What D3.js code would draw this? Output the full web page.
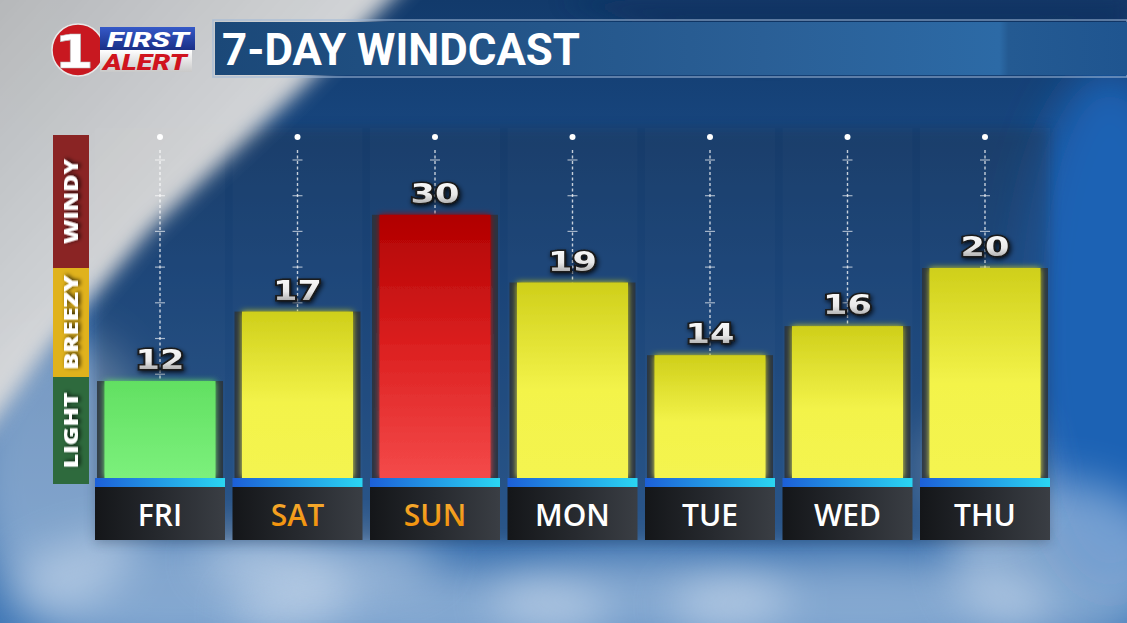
<!DOCTYPE html>
<html>
<head>
<meta charset="utf-8">
<script src="https://cdn.jsdelivr.net/npm/d3@7"></script>
<style>
  html, body { margin: 0; padding: 0; background: #1f5798; overflow: hidden; }
  svg { display: block; }
</style>
</head>
<body>
<svg id="chart"></svg>
<script>
// data
const days = ["FRI", "SAT", "SUN", "MON", "TUE", "WED", "THU"];
const speeds = [12, 17, 30, 19, 14, 16, 20];
const weekend = ["SAT", "SUN"];
const levelNames = ["LIGHT", "BREEZY", "WINDY"];
const levelBreaks = [0, 12.5, 20, 45];
const title = "7-DAY WINDCAST";

const width = 1127, height = 623;
const baseY = 478;

const svg = d3.select("#chart")
    .attr("width", width)
    .attr("height", height)
    .attr("viewBox", [0, 0, width, height]);

const defs = svg.append("defs");

function linGrad(id, stops, x2 = 0, y2 = 1) {
    const g = defs.append("linearGradient").attr("id", id)
        .attr("x1", 0).attr("y1", 0).attr("x2", x2).attr("y2", y2);
    stops.forEach(([o, c, op]) => g.append("stop").attr("offset", o)
        .attr("stop-color", c).attr("stop-opacity", op == null ? 1 : op));
}

linGrad("sky", [[0, "#123a6b"], [0.45, "#1d5292"], [1, "#3b74b4"]]);
linGrad("streak", [[0, "#b9b9b9"], [0.6, "#e6e6e6"], [1, "#ffffff"]], 1, 1);
linGrad("titleBar", [[0, "#1b4878"], [0.6, "#2a5f96"], [0.86, "#2c6aa6"], [0.87, "#245a92"], [1, "#1f5590"]], 1, 0);
linGrad("strip", [[0, "#1c5fd8"], [1, "#2ad6f2"]], 1, 0);
linGrad("dayBox", [[0, "#141619"], [0.5, "#26292e"], [1, "#3a3e44"]], 1, 0);
linGrad("weekendText", [[0, "#f7b23a"], [1, "#f08a00"]]);
linGrad("numText", [[0, "#ffffff"], [0.55, "#e8e8e8"], [1, "#8e8e8e"]]);
linGrad("fillLIGHT", [[0, "#62e062"], [1, "#7cf07c"]]);
linGrad("fillBREEZY", [[0, "#cfcf1a"], [0.55, "#f3f34a"], [1, "#f4f450"]]);
linGrad("fillWINDY", [[0, "#b00000"], [0.5, "#dc2020"], [1, "#f44a4a"]]);
linGrad("badgeTop", [[0, "#3559c8"], [1, "#1a2f86"]]);
linGrad("badgeBot", [[0, "#ffffff"], [1, "#c9c9c9"]]);

const blur = (id, s) => defs.append("filter").attr("id", id)
    .attr("x", "-50%").attr("y", "-50%").attr("width", "200%").attr("height", "200%")
    .append("feGaussianBlur").attr("stdDeviation", s);
blur("blurBig", 22);
blur("blurMid", 10);
blur("blurSmall", 6);

const shadow = defs.append("filter").attr("id", "textShadow")
    .attr("x", "-30%").attr("y", "-30%").attr("width", "160%").attr("height", "160%");
shadow.append("feDropShadow").attr("dx", 1).attr("dy", 2)
    .attr("stdDeviation", 2).attr("flood-color", "#000").attr("flood-opacity", 0.8);

const glow = defs.append("filter").attr("id", "glow")
    .attr("x", "-20%").attr("y", "-20%").attr("width", "140%").attr("height", "140%");
glow.append("feGaussianBlur").attr("in", "SourceGraphic").attr("stdDeviation", 3).attr("result", "b");
const gm = glow.append("feMerge");
gm.append("feMergeNode").attr("in", "b");
gm.append("feMergeNode").attr("in", "SourceGraphic");

// ---- background ----
const bg = svg.append("g");
bg.append("rect").attr("width", width).attr("height", height).attr("fill", "url(#sky)");
bg.append("ellipse").attr("cx", 1110).attr("cy", 330).attr("rx", 90).attr("ry", 260)
    .attr("fill", "#1e62b4").attr("filter", "url(#blurBig)");
bg.append("polygon")
    .attr("points", "560,0 1127,0 1127,30 760,60")
    .attr("fill", "#0e2f5c").attr("opacity", 0.6).attr("filter", "url(#blurMid)");

const clouds = [[60, 470, 90, 140], [180, 590, 170, 60], [420, 610, 190, 45], [640, 600, 150, 45],
    [860, 605, 190, 50], [1060, 560, 110, 80], [320, 560, 120, 30], [980, 470, 60, 60]];
bg.selectAll(".cloud").data(clouds).join("ellipse")
    .attr("cx", d => d[0]).attr("cy", d => d[1]).attr("rx", d => d[2]).attr("ry", d => d[3])
    .attr("fill", "#dfe9f5").attr("opacity", 0.45).attr("filter", "url(#blurBig)");

// darker chart panel
bg.append("rect").attr("x", 95).attr("y", 128).attr("width", 955).attr("height", 415)
    .attr("fill", "#14253d").attr("opacity", 0.3).attr("filter", "url(#blurSmall)");

bg.append("polygon")
    .attr("points", "-40,-40 430,-40 300,90 150,230 40,360 -40,470")
    .attr("fill", "url(#streak)").attr("opacity", 0.95).attr("filter", "url(#blurMid)");

// ---- header: logo and title ----
const logo = svg.append("g");
logo.append("circle").attr("cx", 78).attr("cy", 50).attr("r", 26)
    .attr("fill", "#c81820").attr("stroke", "#e8e8e8").attr("stroke-width", 1.5);
logo.append("text").attr("x", 74).attr("y", 68)
    .attr("text-anchor", "middle").attr("font-family", "DejaVu Sans").attr("font-weight", 700)
    .attr("font-size", 46).attr("fill", "#ffffff").attr("stroke", "#bbb").attr("stroke-width", 0.6)
    .attr("transform", "translate(74,0) scale(1.25,1) translate(-74,0)")
    .text("1");
logo.append("rect").attr("x", 100).attr("y", 27).attr("width", 95).attr("height", 23)
    .attr("fill", "url(#badgeTop)");
logo.append("rect").attr("x", 100).attr("y", 50).attr("width", 92).attr("height", 22)
    .attr("fill", "url(#badgeBot)");
logo.append("text").attr("x", 148).attr("y", 47).attr("text-anchor", "middle")
    .attr("font-family", "Roboto").attr("font-weight", 900).attr("font-style", "italic")
    .attr("font-size", 21).attr("fill", "#ffffff").attr("textLength", 82)
    .attr("lengthAdjust", "spacingAndGlyphs").text("FIRST");
logo.append("text").attr("x", 145).attr("y", 70).attr("text-anchor", "middle")
    .attr("font-family", "Roboto").attr("font-weight", 900).attr("font-style", "italic")
    .attr("font-size", 22).attr("fill", "#d0141e").attr("textLength", 84)
    .attr("lengthAdjust", "spacingAndGlyphs").text("ALERT");

const head = svg.append("g");
head.append("rect").attr("x", 213).attr("y", 20).attr("width", width - 213).attr("height", 57)
    .attr("fill", "none").attr("stroke", "#9fb8d6").attr("stroke-width", 1.5).attr("opacity", 0.7);
head.append("rect").attr("x", 215).attr("y", 22).attr("width", width - 215).attr("height", 53)
    .attr("fill", "url(#titleBar)");
head.append("text").attr("x", 222).attr("y", 65)
    .attr("font-family", "Roboto").attr("font-weight", 700).attr("font-size", 44)
    .attr("fill", "#ffffff").attr("textLength", 358).attr("lengthAdjust", "spacingAndGlyphs")
    .text(title);

// ---- scales ----
const x = d3.scaleBand().domain(days).range([95, 1050]).paddingInner(0.0545);
const y = d3.scaleLinear().domain(levelBreaks).range([baseY, 377, 268, 135]);
const levelOf = v => levelNames[Math.max(0, d3.bisectLeft(levelBreaks, v) - 1)];

const rows = days.map((d, i) => ({ day: d, value: speeds[i], level: levelOf(speeds[i]) }));
const barW = 111;

// ---- legend ----
const levelColor = { LIGHT: "#2e6a3d", BREEZY: "#e0b21c", WINDY: "#8a2424" };
const levels = levelNames.map((n, i) => ({ name: n, lo: levelBreaks[i], hi: levelBreaks[i + 1] }));
const legBottom = d => (d.lo === 0 ? y(d.lo) + 6 : y(d.lo));
const leg = svg.append("g");
leg.selectAll("rect").data(levels).join("rect")
    .attr("x", 53).attr("width", 36)
    .attr("y", d => y(d.hi))
    .attr("height", d => legBottom(d) - y(d.hi))
    .attr("fill", d => levelColor[d.name]);
const legLen = { LIGHT: 76, BREEZY: 95, WINDY: 85 };
leg.selectAll("text").data(levels).join("text")
    .attr("transform", d => `translate(78,${(legBottom(d) + y(d.hi)) / 2}) rotate(-90)`)
    .attr("text-anchor", "middle")
    .attr("font-family", "Open Sans").attr("font-weight", 800).attr("font-size", 19)
    .attr("fill", "#ffffff").attr("filter", "url(#textShadow)")
    .attr("textLength", d => legLen[d.name]).attr("lengthAdjust", "spacingAndGlyphs")
    .text(d => d.name);

// ---- columns ----
const col = svg.append("g").selectAll("g").data(rows).join("g")
    .attr("transform", d => `translate(${x(d.day)},0)`);
const bw = x.bandwidth();
const cx = bw / 2;

col.append("rect").attr("x", 0).attr("y", 128).attr("width", bw).attr("height", baseY - 128)
    .attr("fill", "#ffffff").attr("opacity", 0.02);

// guide line with ticks
const tickStep = 35.7;
col.append("circle").attr("cx", cx).attr("cy", 137).attr("r", 3).attr("fill", "#ffffff");
col.append("line").attr("x1", cx).attr("x2", cx).attr("y1", 150).attr("y2", d => y(d.value))
    .attr("stroke", "#ffffff").attr("stroke-opacity", 0.75).attr("stroke-width", 1.4)
    .attr("stroke-dasharray", "3,2.5");
col.each(function (d) {
    const ticks = d3.range(160, y(d.value) + 2, tickStep);
    d3.select(this).selectAll(".tick").data(ticks).join("line").attr("class", "tick")
        .attr("x1", cx - 5).attr("x2", cx + 5).attr("y1", t => t).attr("y2", t => t)
        .attr("stroke", "#ffffff").attr("stroke-opacity", 0.6).attr("stroke-width", 1.2);
});

// dark side strips and bar
col.append("rect").attr("x", cx - 63).attr("width", 126)
    .attr("y", d => y(d.value)).attr("height", d => baseY - y(d.value))
    .attr("fill", "#2b3138").attr("opacity", 0.85);
col.append("rect").attr("x", cx - barW / 2).attr("width", barW)
    .attr("y", d => y(d.value)).attr("height", d => baseY - y(d.value))
    .attr("fill", d => `url(#fill${d.level})`).attr("filter", "url(#glow)");

// value labels
col.append("text")
    .attr("transform", d => `translate(${cx},${y(d.value) - 12}) scale(1.3,1)`)
    .attr("text-anchor", "middle")
    .attr("font-family", "DejaVu Sans").attr("font-weight", 700).attr("font-size", 27)
    .attr("fill", "url(#numText)").attr("stroke", "#1a1a1a").attr("stroke-width", 3)
    .attr("paint-order", "stroke").attr("filter", "url(#textShadow)")
    .text(d => d.value);

// base strip and day box
col.append("rect").attr("x", 0).attr("y", baseY).attr("width", bw).attr("height", 9)
    .attr("fill", "url(#strip)");
col.append("rect").attr("x", 0).attr("y", baseY + 9).attr("width", bw).attr("height", 53)
    .attr("fill", "url(#dayBox)");
col.append("text").attr("x", cx).attr("y", 526).attr("text-anchor", "middle")
    .attr("font-family", "Open Sans").attr("font-weight", 600).attr("font-size", 30)
    .attr("fill", d => weekend.includes(d.day) ? "url(#weekendText)" : "#ffffff")
    .text(d => d.day);
</script>
</body>
</html>
